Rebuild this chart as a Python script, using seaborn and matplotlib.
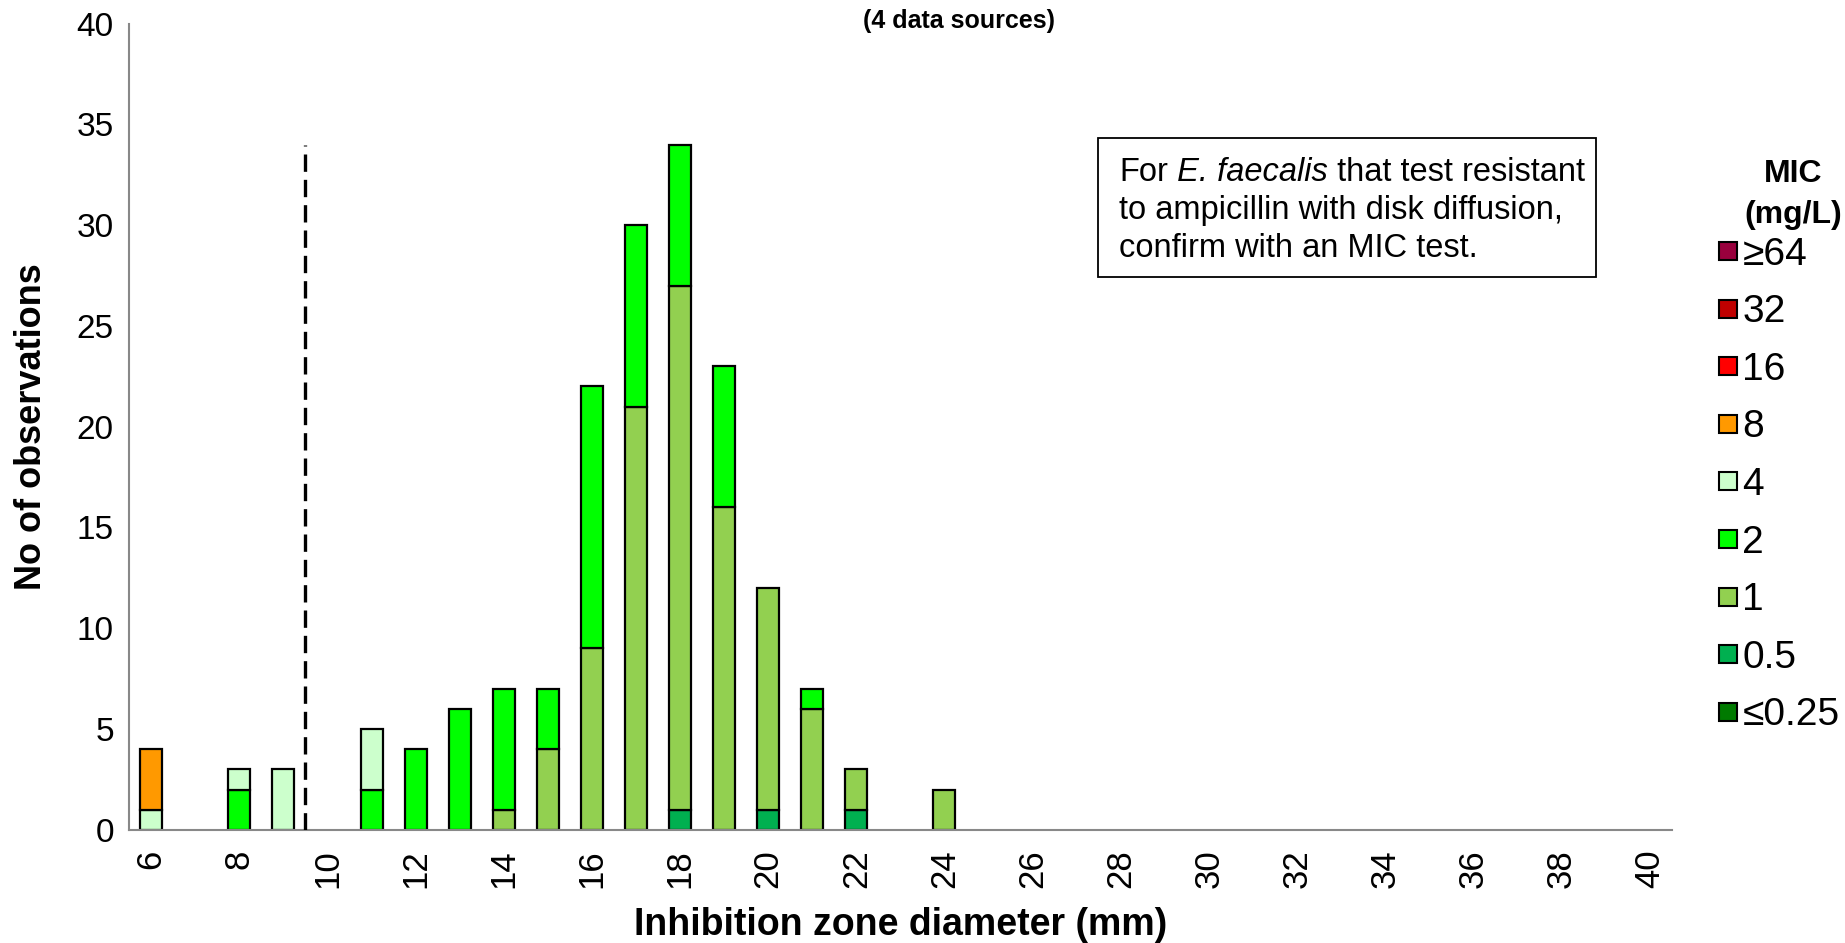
import numpy as np
import pandas as pd
import matplotlib
matplotlib.use("Agg")
import matplotlib.pyplot as plt
import seaborn as sns
from matplotlib.lines import Line2D
from matplotlib.patches import Rectangle

# ---- data ----
zones = list(range(6, 25))  # inhibition zone diameters (mm) 6..24
mic_levels = ["≥64", "32", "16", "8", "4", "2", "1", "0.5", "≤0.25"]
mic_colors = ["#99003D", "#C00000", "#FF0000", "#FF9900", "#CCFFCC",
              "#00FF00", "#92D050", "#00B050", "#007A00"]
#            6  7  8  9 10 11 12 13 14 15 16 17 18 19 20 21 22 23 24
mic_ge64  = [0, 0, 0, 0, 0, 0, 0, 0, 0, 0, 0, 0, 0, 0, 0, 0, 0, 0, 0]
mic_32    = [0, 0, 0, 0, 0, 0, 0, 0, 0, 0, 0, 0, 0, 0, 0, 0, 0, 0, 0]
mic_16    = [0, 0, 0, 0, 0, 0, 0, 0, 0, 0, 0, 0, 0, 0, 0, 0, 0, 0, 0]
mic_8     = [3, 0, 0, 0, 0, 0, 0, 0, 0, 0, 0, 0, 0, 0, 0, 0, 0, 0, 0]
mic_4     = [1, 0, 1, 3, 0, 3, 0, 0, 0, 0, 0, 0, 0, 0, 0, 0, 0, 0, 0]
mic_2     = [0, 0, 2, 0, 0, 2, 4, 6, 6, 3, 13, 9, 7, 7, 0, 1, 0, 0, 0]
mic_1     = [0, 0, 0, 0, 0, 0, 0, 0, 1, 4, 9, 21, 26, 16, 11, 6, 2, 0, 2]
mic_0_5   = [0, 0, 0, 0, 0, 0, 0, 0, 0, 0, 0, 0, 1, 0, 1, 0, 1, 0, 0]
mic_le025 = [0, 0, 0, 0, 0, 0, 0, 0, 0, 0, 0, 0, 0, 0, 0, 0, 0, 0, 0]
series = [mic_ge64, mic_32, mic_16, mic_8, mic_4, mic_2, mic_1, mic_0_5, mic_le025]

breakpoint_mm = 9.5
breakpoint_height = 34
x_ticks = list(range(6, 41, 2))

rows = []
for lvl, vals in zip(mic_levels, series):
    for z, v in zip(zones, vals):
        rows.append({"zone": z, "mic": lvl, "count": v})
df = pd.DataFrame(rows)

# ---- style ----
sns.set_style("white")
plt.rcParams["font.family"] = ["Liberation Sans", "DejaVu Sans"]
plt.rcParams["text.color"] = "black"
plt.rcParams["axes.labelcolor"] = "black"
plt.rcParams["xtick.labelcolor"] = "black"
plt.rcParams["ytick.labelcolor"] = "black"

W, H = 1845, 943
fig = plt.figure(figsize=(W / 100, H / 100), dpi=100)
ax = fig.add_axes([0.070, 0.120, 0.836, 0.855])

sns.histplot(data=df, x="zone", weights="count", hue="mic", hue_order=mic_levels,
             palette=dict(zip(mic_levels, mic_colors)), multiple="stack",
             discrete=True, shrink=0.5, edgecolor="black", linewidth=1.6,
             alpha=1, legend=False, ax=ax)
for p in ax.patches:
    if p.get_height() == 0:
        p.set_visible(False)

ax.plot([breakpoint_mm, breakpoint_mm], [0, breakpoint_height], color="black",
        lw=2.4, dashes=(5.2, 2.4), zorder=5)

ax.set_xlim(5.5, 40.5)
ax.set_ylim(0, 40)
ax.set_yticks(range(0, 41, 5))
ax.set_xticks(x_ticks)
ax.set_xticklabels([str(t) for t in x_ticks], rotation=90, fontsize=25)
ax.set_xticks(np.arange(5.5, 41, 1), minor=True)
ax.tick_params(axis="x", which="major", length=0, pad=14)
ax.tick_params(axis="x", which="minor", length=9, width=1.3, color="#888888")
ax.tick_params(axis="y", which="major", length=7, width=1.3, color="#888888",
               labelsize=24, pad=4)

for s in ["top", "right"]:
    ax.spines[s].set_visible(False)
for s in ["left", "bottom"]:
    ax.spines[s].set_color("#888888")
    ax.spines[s].set_linewidth(1.5)

ax.set_xlabel("Inhibition zone diameter (mm)", fontsize=27, fontweight="bold", labelpad=14)
ax.set_ylabel("No of observations", fontsize=26, fontweight="bold", labelpad=20)

fig.text(0.520, 0.978, "(4 data sources)", fontsize=18, fontweight="bold",
         ha="center", va="center")

# annotation box (drawn inside the axes' artist list so texts stack above it)
ftr = fig.transFigure
ax.add_patch(Rectangle((1098 / W, 1 - 277 / H), 498 / W, 139 / H, transform=ftr,
                       fc="white", ec="black", lw=1.3, zorder=6, clip_on=False))
tx = 1119 / W
fs_box = 23.5
t1 = ax.text(tx, 1 - 181 / H, "For", transform=ftr, fontsize=fs_box,
             ha="left", va="baseline", zorder=7, clip_on=False)
a2 = ax.annotate(" E. faecalis", xy=(1, 0), xycoords=t1, fontsize=fs_box, style="italic",
                 ha="left", va="bottom", annotation_clip=False, zorder=7)
a3 = ax.annotate(" that test resistant", xy=(1, 0), xycoords=a2, fontsize=fs_box,
                 ha="left", va="bottom", annotation_clip=False, zorder=7)
ax.text(tx, 1 - 219 / H, "to ampicillin with disk diffusion,", transform=ftr,
        fontsize=fs_box, ha="left", va="baseline", zorder=7, clip_on=False)
ax.text(tx, 1 - 257 / H, "confirm with an MIC test.", transform=ftr,
        fontsize=fs_box, ha="left", va="baseline", zorder=7, clip_on=False)

# legend
fig.text(1793 / W, 1 - 174 / H, "MIC", fontsize=23, fontweight="bold", ha="center", va="center")
fig.text(1793 / W, 1 - 215 / H, "(mg/L)", fontsize=23, fontweight="bold", ha="center", va="center")
handles = [Line2D([0], [0], marker="s", linestyle="none", markersize=12.5,
                  markerfacecolor=c, markeredgecolor="black", markeredgewidth=1.5)
           for c in mic_colors]
leg = fig.legend(handles, mic_levels, loc="center left",
                 bbox_to_anchor=(1719 / W, 1 - 485 / H),
                 frameon=False, fontsize=28,
                 handlelength=0.45, handletextpad=0.15, labelspacing=0.555,
                 borderpad=0, borderaxespad=0)

fig.savefig("out.png", dpi=100)
